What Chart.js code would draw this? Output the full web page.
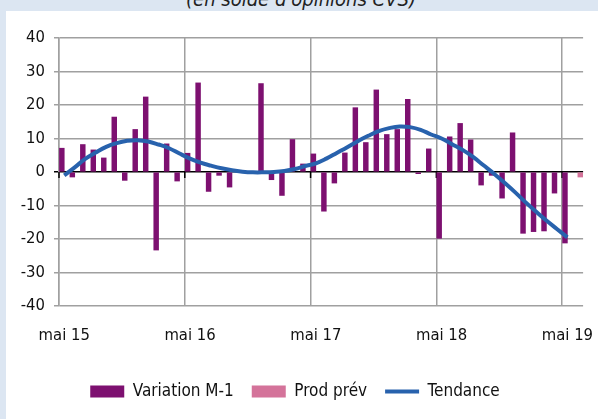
<!DOCTYPE html>
<html>
<head>
<meta charset="utf-8">
<script src="https://cdn.jsdelivr.net/npm/chart.js@4"></script>
<style>
  html, body { margin: 0; padding: 0; }
  body { width: 598px; height: 419px; background: #dce6f2; position: relative; overflow: hidden; }
  #subtitle {
    position: absolute; left: 0; width: 602px; top: -11px;
    text-align: center; font: italic 20px 'Liberation Sans Narrow', 'DejaVu Sans Condensed', 'Liberation Sans', sans-serif;
    line-height: 20px; color: #222;
  }
  #panel { position: absolute; left: 6px; top: 11px; width: 592px; height: 408px; background: #fff; }
</style>
</head>
<body>
<div id="subtitle">(en solde d'opinions CVS)</div>
<div id="panel"><canvas id="chart" width="592" height="408"></canvas></div>
<script>
const FONT = "'Liberation Sans Narrow', 'DejaVu Sans Condensed', 'Liberation Sans', sans-serif";
const FSIZE = 16.5;

// ===== DATA =====
const MONTHS = ['mai','juin','juil','août','sept','oct','nov','déc','janv','févr','mars','avr'];
const YEARS = ['15','16','17','18','19'];

// mai 15 .. juin 19
const labels = [];
for (let i = 0; i < 50; i++) {
    labels.push(MONTHS[i % 12] + ' ' + YEARS[Math.floor((i + 4) / 12)]);
}

const variation = [
    7.1, -1.5, 8.2, 6.6, 4.2, 16.4, -2.5, 12.7, 22.4, -23.3, 8.4, -2.7,
    5.6, 26.6, -5.8, -1.0, -4.5, 0, 0, 26.4, -2.3, -7.0, 9.7, 2.4,
    5.4, -11.7, -3.3, 5.7, 19.2, 8.8, 24.5, 11.2, 12.7, 21.7, -0.5, 6.9,
    -19.8, 10.5, 14.5, 9.6, -3.9, -1.0, -7.8, 11.7, -18.3, -17.8, -17.6, -6.3,
    -21.2, null
];

const prodPrev = new Array(49).fill(null).concat([-1.5]);

const tendance = [
    -1.0, 1.4, 3.9, 5.8, 7.5, 8.6, 9.3, 9.5, 9.1, 8.2, 7.1, 5.5,
    4.0, 2.8, 1.9, 1.1, 0.5, 0.1, -0.1, -0.1, 0.0, 0.3, 0.9, 1.8,
    2.6, 4.0, 5.7, 7.4, 9.2, 10.8, 12.2, 13.1, 13.6, 13.4, 12.6, 11.2,
    10.0, 8.3, 6.6, 4.5, 2.0, -0.5, -3.2, -6.0, -9.0, -11.8, -14.5, -17.0,
    -19.5, null
];

const yTicks = [40, 30, 20, 10, 0, -10, -20, -30, -40];
const legendOrder = ['Variation M-1', 'Prod prév', 'Tendance'];

// ===== PLUGIN: small ticks under the zero line =====
const zeroTicks = {
    id: 'zeroTicks',
    beforeDatasetsDraw(chart) {
        const x = chart.scales.x, y = chart.scales.y;
        const y0 = y.getPixelForValue(0);
        const half = (x.getPixelForTick(1) - x.getPixelForTick(0)) / 2;
        const ctx = chart.ctx;
        ctx.save();
        ctx.strokeStyle = '#000';
        ctx.lineWidth = 1.5;
        for (let i = 0; i < labels.length; i += 12) {
            const gx = x.getPixelForTick(i) - half;
            ctx.beginPath();
            ctx.moveTo(gx, y0);
            ctx.lineTo(gx, y0 + 6);
            ctx.stroke();
        }
        ctx.restore();
    }
};

// ===== CHART =====
new Chart(document.getElementById('chart'), {
    data: {
        labels: labels,
        datasets: [
            {
                type: 'line',
                label: 'Tendance',
                data: tendance,
                borderColor: '#2862ad',
                backgroundColor: '#2862ad',
                borderWidth: 4,
                pointRadius: 0,
                pointStyle: 'line',
                tension: 0.4,
                order: 0
            },
            {
                type: 'bar',
                label: 'Variation M-1',
                data: variation,
                backgroundColor: '#7d1070',
                borderWidth: 0,
                pointStyle: 'rect',
                barThickness: 4.8,
                order: 1
            },
            {
                type: 'bar',
                label: 'Prod prév',
                data: prodPrev,
                backgroundColor: '#d4739a',
                borderWidth: 0,
                pointStyle: 'rect',
                barThickness: 4.8,
                order: 2
            }
        ]
    },
    options: {
        responsive: false,
        animation: false,
        layout: { padding: { top: 27, right: 14, left: 0, bottom: 9 } },
        scales: {
            x: {
                offset: true,
                afterFit: s => { s.height = 59; },
                grid: {
                    offset: true,
                    drawTicks: false,
                    lineWidth: 1.5,
                    color: ctx => (ctx.index % 12 === 0 && ctx.index < 50) ? '#a0a0a0' : 'rgba(0,0,0,0)'
                },
                border: { display: false },
                ticks: {
                    autoSkip: false,
                    maxRotation: 0,
                    padding: 20,
                    color: '#111',
                    font: { family: FONT, size: FSIZE },
                    callback: (v, i) => i % 12 === 0 ? labels[i] : ''
                }
            },
            y: {
                min: -40,
                max: 40,
                afterBuildTicks: s => { s.ticks = yTicks.map(v => ({ value: v })); },
                afterFit: s => { s.width = 53; },
                grid: {
                    lineWidth: 1.5,
                    tickLength: 5,
                    color: ctx => ctx.tick && ctx.tick.value === 0 ? '#000' : '#a0a0a0'
                },
                border: { color: '#a0a0a0', width: 1.5 },
                ticks: {
                    padding: 9,
                    color: '#111',
                    font: { family: FONT, size: FSIZE }
                }
            }
        },
        plugins: {
            tooltip: { enabled: false },
            legend: {
                position: 'bottom',
                labels: {
                    usePointStyle: true,
                    pointStyleWidth: 34,
                    boxHeight: 12,
                    padding: 18,
                    color: '#111',
                    font: { family: FONT, size: 17 },
                    sort: (a, b) => legendOrder.indexOf(a.text) - legendOrder.indexOf(b.text)
                }
            }
        }
    },
    plugins: [zeroTicks]
});
</script>
</body>
</html>
